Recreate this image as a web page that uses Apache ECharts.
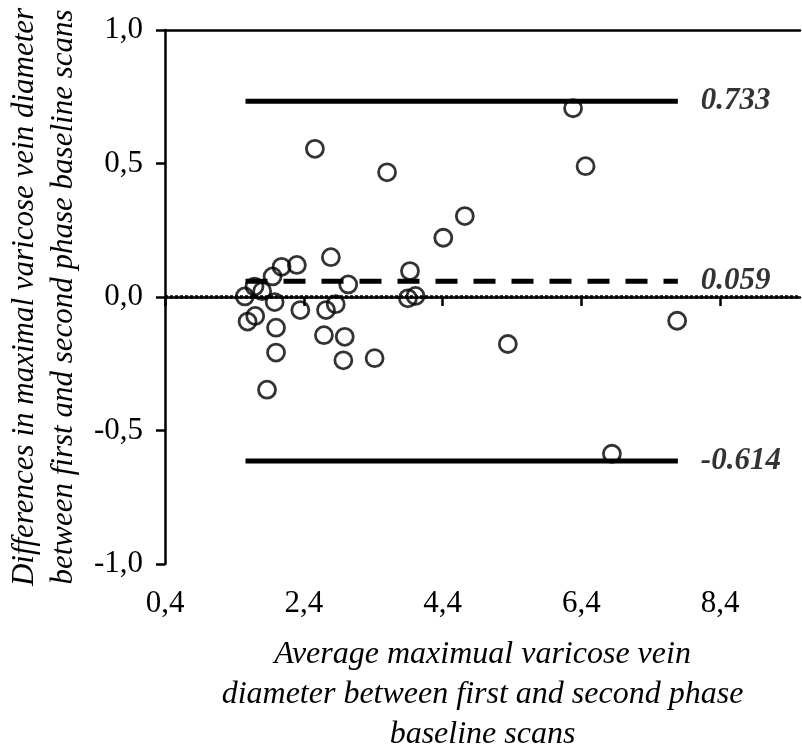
<!DOCTYPE html>
<html>
<head>
<meta charset="utf-8">
<script src="https://cdn.jsdelivr.net/npm/echarts@6/dist/echarts.min.js"></script>
<style>
html, body { margin: 0; padding: 0; background: #fff; }
#main { width: 802px; height: 746px; }
</style>
</head>
<body>
<div id="main"></div>
<script>
var chartDom = document.getElementById('main');
var myChart = echarts.init(chartDom);

// average of the two scans (x) and their difference (y)
const avgDiam = [2.56, 3.60, 4.41, 2.79, 2.30, 2.08, 1.95, 3.93, 3.04, 1.69, 1.80,
    1.55, 3.90, 4.01, 1.98, 2.86, 2.72, 2.35, 1.70, 1.59, 2.00, 2.69, 2.99, 2.00,
    2.97, 3.42, 1.87, 4.72, 6.28, 6.46, 5.34, 7.78, 6.84];
const diffVals = [0.555, 0.467, 0.222, 0.149, 0.120, 0.113, 0.077, 0.097, 0.047, 0.039, 0.022,
    0.002, -0.005, 0.004, -0.019, -0.027, -0.049, -0.049, -0.071, -0.092, -0.115, -0.143, -0.149, -0.208,
    -0.237, -0.229, -0.347, 0.303, 0.707, 0.490, -0.176, -0.089, -0.587];

const xTicks = [0.4, 2.4, 4.4, 6.4, 8.4];

const upperLoA = 0.733;
const meanDiff = 0.059;
const lowerLoA = -0.614;
const lineSpan = [1.56, 7.79];
const xRange = [0.4, 9.55];

const fontFam = 'Liberation Serif';

let points = avgDiam.map(function (x, i) { return [x, diffVals[i]]; });

function hLine(v, type, width) {
    return {
        type: 'line',
        data: [[lineSpan[0], v], [lineSpan[1], v]],
        symbol: 'none',
        silent: true,
        lineStyle: { color: '#000', width: width, type: type, cap: 'butt' },
        z: 3
    };
}

let option = {
    animation: false,
    backgroundColor: '#fff',
    grid: { left: 165, right: 2, top: 30, bottom: 182, outerBoundsMode: 'none', containLabel: false },
    xAxis: [
        {
            type: 'value',
            min: xRange[0],
            max: xRange[1],
            splitLine: { show: false },
            axisLine: { lineStyle: { color: '#000', width: 2.5 } },
            axisTick: { length: 9, customValues: xTicks, lineStyle: { color: '#000', width: 2.5 } },
            axisLabel: {
                customValues: xTicks,
                margin: 24,
                color: '#000',
                fontFamily: fontFam,
                fontSize: 31,
                formatter: function (v) { return v.toFixed(1).replace('.', ','); }
            },
            name: 'Average maximual varicose vein\ndiameter between first and second phase\nbaseline scans',
            nameLocation: 'middle',
            nameGap: 71,
            nameTextStyle: {
                color: '#000', fontFamily: fontFam, fontStyle: 'italic',
                fontSize: 32, lineHeight: 40, align: 'center'
            }
        },
        {
            // top frame line
            type: 'value',
            position: 'top',
            min: xRange[0],
            max: xRange[1],
            splitLine: { show: false },
            axisLine: { show: true, lineStyle: { color: '#000', width: 2.5 } },
            axisTick: { show: false },
            axisLabel: { show: false }
        }
    ],
    yAxis: {
        type: 'value',
        min: -1,
        max: 1,
        interval: 0.5,
        splitLine: { show: false },
        axisLine: { show: true, lineStyle: { color: '#000', width: 2.5 } },
        axisTick: { show: true, length: 9, lineStyle: { color: '#000', width: 2.5 } },
        axisLabel: {
            margin: 22,
            color: '#000',
            fontFamily: fontFam,
            fontSize: 31,
            formatter: function (v) { return v.toFixed(1).replace('.', ','); }
        },
        name: 'Differences in maximal varicose vein diameter\nbetween first and second phase baseline scans',
        nameLocation: 'middle',
        nameGap: 67,
        nameTextStyle: {
            color: '#000', fontFamily: fontFam, fontStyle: 'italic',
            fontSize: 31, lineHeight: 39, align: 'center'
        }
    },
    series: [
        {
            type: 'scatter',
            data: points,
            symbol: 'circle',
            symbolSize: 17,
            silent: true,
            itemStyle: { color: 'rgba(0,0,0,0)', borderColor: '#000', borderWidth: 2.8 },
            z: 2
        },
        {
            // zero line across the whole plot
            type: 'line',
            data: [[xRange[0], 0], [xRange[1], 0]],
            symbol: 'none',
            silent: true,
            lineStyle: { color: '#000', width: 3.5, type: [3, 2] },
            z: 3
        },
        hLine(upperLoA, 'solid', 5),
        hLine(meanDiff, [22, 16], 5),
        hLine(lowerLoA, 'solid', 5),
        {
            // value labels at the right end of the three lines
            type: 'scatter',
            data: [[lineSpan[1], upperLoA], [lineSpan[1], meanDiff], [lineSpan[1], lowerLoA]],
            symbolSize: 0,
            silent: true,
            label: {
                show: true,
                position: 'right',
                distance: 23,
                color: '#000',
                fontFamily: fontFam,
                fontStyle: 'italic',
                fontWeight: 'bold',
                fontSize: 31,
                formatter: function (p) { return p.value[1].toFixed(3); }
            },
            z: 4
        }
    ]
};

option && myChart.setOption(option);
</script>
</body>
</html>
